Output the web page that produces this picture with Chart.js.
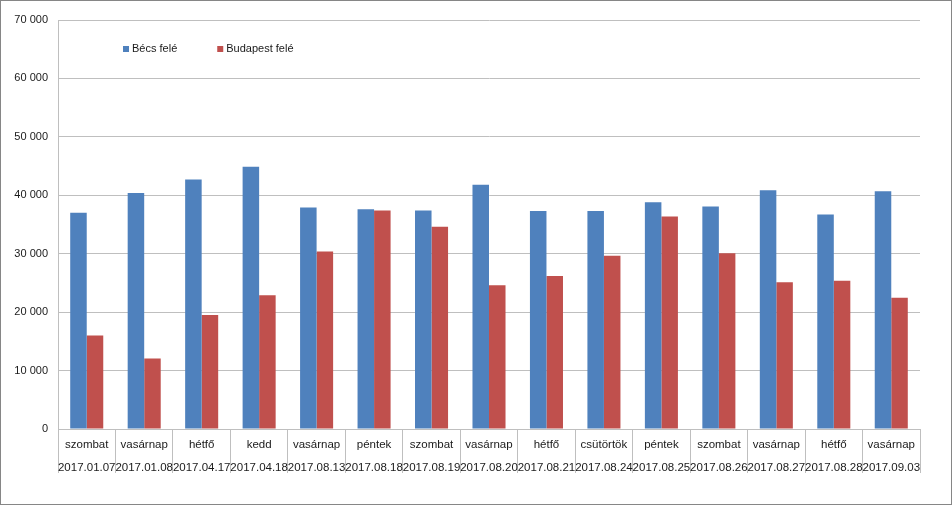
<!DOCTYPE html>
<html>
<head>
<meta charset="utf-8">
<script src="https://cdn.jsdelivr.net/npm/chart.js@4/dist/chart.umd.min.js"></script>
<style>
  html, body { margin: 0; padding: 0; background: #fff; }
  #wrap { width: 952px; height: 505px; box-sizing: border-box; border: 1px solid #868686; background: #fff; }
  canvas { display: block; }
</style>
</head>
<body>
<div id="wrap"><canvas id="c" width="950" height="503"></canvas></div>
<script>
const days = ["szombat","vasárnap","hétfő","kedd","vasárnap","péntek","szombat","vasárnap","hétfő","csütörtök","péntek","szombat","vasárnap","hétfő","vasárnap"];
const dates = ["2017.01.07","2017.01.08","2017.04.17","2017.04.18","2017.08.13","2017.08.18","2017.08.19","2017.08.20","2017.08.21","2017.08.24","2017.08.25","2017.08.26","2017.08.27","2017.08.28","2017.09.03"];
const becsFele = [37000, 40400, 42700, 44900, 37900, 37600, 37400, 41800, 37300, 37300, 38800, 38100, 40850, 36700, 40700];
const budapestFele = [16000, 12050, 19500, 22900, 30400, 37400, 34600, 24600, 26200, 29650, 36350, 30100, 25130, 25370, 22460];
const seriesNames = ["Bécs felé", "Budapest felé"];
const yTicksMax = 70000;
const yTicksStep = 10000;

const labels = days.map((d, i) => [d, dates[i]]);
const gridColor = '#BFBFBF';
const textColor = '#1a1a1a';
const fontFamily = 'Liberation Sans, Arial, sans-serif';

// legend drawn inside the plot area, next to the top-left, like the original
const insideLegend = {
  id: 'insideLegend',
  afterDraw(chart) {
    const ctx = chart.ctx;
    const area = chart.chartArea;
    ctx.save();
    ctx.font = '11px ' + fontFamily;
    ctx.textBaseline = 'middle';
    ctx.textAlign = 'left';
    let x = area.left + 65;
    const y = area.top + 29;
    chart.data.datasets.forEach((ds) => {
      ctx.fillStyle = ds.backgroundColor;
      ctx.fillRect(x, y - 3, 6, 6);
      ctx.fillStyle = textColor;
      ctx.fillText(ds.label, x + 9, y);
      x += 9 + ctx.measureText(ds.label).width + 40;
    });
    ctx.restore();
  }
};

new Chart(document.getElementById('c'), {
  type: 'bar',
  data: {
    labels: labels,
    datasets: [
      { label: seriesNames[0], data: becsFele, backgroundColor: '#4F81BD', borderWidth: 0 },
      { label: seriesNames[1], data: budapestFele, backgroundColor: '#C0504D', borderWidth: 0 }
    ]
  },
  options: {
    responsive: false,
    animation: false,
    devicePixelRatio: 1,
    layout: { padding: { left: 0, top: 19, right: 31, bottom: 0 } },
    datasets: { bar: { categoryPercentage: 0.575, barPercentage: 1 } },
    plugins: {
      tooltip: { enabled: false },
      legend: { display: false }
    },
    scales: {
      x: {
        grid: { offset: true, drawOnChartArea: false, drawTicks: true, tickLength: 44, color: gridColor },
        border: { display: true, color: gridColor },
        ticks: {
          color: textColor, padding: -40, maxRotation: 0, autoSkip: false,
          font: { family: fontFamily, size: 11.5, lineHeight: 2 }
        },
        afterFit(scale) { scale.height = 75; }
      },
      y: {
        min: 0, max: yTicksMax,
        grid: { drawTicks: false, color: gridColor },
        border: { display: true, color: gridColor },
        ticks: {
          stepSize: yTicksStep, padding: 10, color: textColor,
          font: { family: fontFamily, size: 11 },
          callback: (v) => String(v).replace(/\B(?=(\d{3})+(?!\d))/g, ' ')
        },
        afterFit(scale) { scale.width = 57; }
      }
    }
  },
  plugins: [insideLegend]
});
</script>
</body>
</html>
